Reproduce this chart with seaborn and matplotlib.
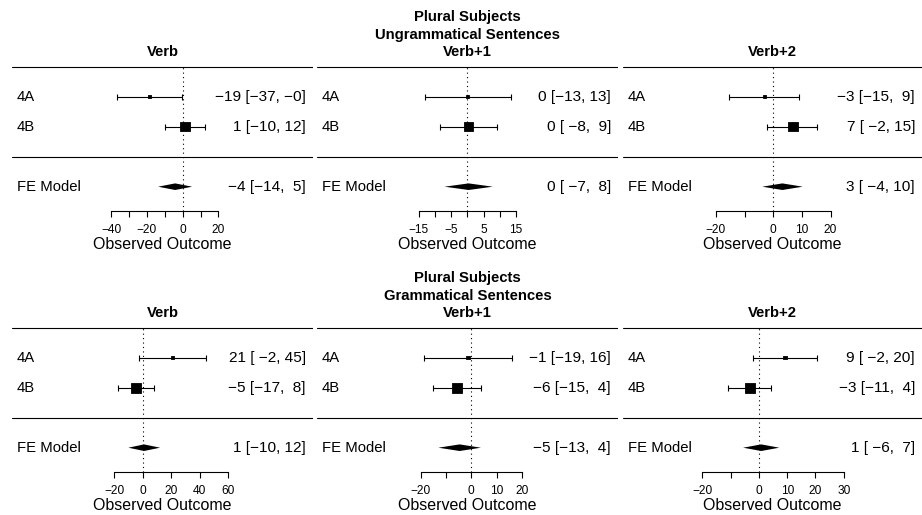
import matplotlib
matplotlib.use("Agg")
import matplotlib.pyplot as plt
import matplotlib.transforms as mtransforms
import seaborn as sns

# -------------------------
# Data
# -------------------------
study_labels = ["4A", "4B"]
panel_titles = ["Verb", "Verb+1", "Verb+2"]
block_headers = [["Plural Subjects", "Ungrammatical Sentences"],
                 ["Plural Subjects", "Grammatical Sentences"]]

# ungrammatical sentences: per panel, one value per study
ungram_est = [[-18.6, 1.2], [0.1, 0.4], [-3.1, 6.9]]
ungram_lo = [[-36.9, -10.1], [-13.1, -8.4], [-15.3, -2.1]]
ungram_hi = [[-0.2, 12.3], [13.3, 9.2], [9.1, 15.3]]
ungram_fe = [[-4.2, -13.7, 5.3], [0.4, -7.0, 7.8], [3.2, -3.8, 10.3]]  # est, lo, hi

# grammatical sentences
gram_est = [[21.2, -4.7], [-1.3, -5.7], [9.2, -3.2]]
gram_lo = [[-2.3, -17.3], [-18.7, -15.2], [-2.0, -10.8]]
gram_hi = [[44.7, 7.9], [16.1, 3.8], [20.4, 4.4]]
gram_fe = [[0.9, -10.1, 12.2], [-4.6, -13.0, 3.8], [0.8, -5.6, 7.2]]

ungram_ticks = [[-40, -30, -20, -10, 0, 10, 20], [-15, -10, -5, 0, 5, 10, 15], [-20, -10, 0, 10, 20]]
ungram_labeled = [[-40, -20, 0, 20], [-15, -5, 5, 15], [-20, 0, 10, 20]]
gram_ticks = [[-20, 0, 20, 40, 60], [-20, -10, 0, 10, 20], [-20, -10, 0, 10, 20, 30]]
gram_labeled = [[-20, 0, 20, 40, 60], [-20, 0, 10, 20], [-20, 0, 10, 20, 30]]

# -------------------------
# Layout (pixels of a 922x515 canvas)
# -------------------------
W, H = 922, 515
col_left = [12, 317, 623]
col_right = [313, 618, 922]
xlims = [[(-95.45, 72.9), (-46.2, 46.3), (-52.4, 51.9)],
         [(-92.0, 119.8), (-60.9, 57.9), (-48.1, 57.7)]]
block_offset = [0, 261]
ROW0 = 156.7      # pixel y of row 0 (separator line) in top block
STEP = 30.0       # pixels per row
YBOT, YTOP = -1.82, 3.5
FS = 10.7
FS_ANN = 11.1
LW = 0.8

sns.set_theme(style="white")
plt.rcParams['font.family'] = ['Liberation Sans', 'DejaVu Sans']
plt.rcParams['text.color'] = 'black'
plt.rcParams['axes.labelcolor'] = 'black'


def fmt(v):
    return f"{v:.0f}".replace("-", "\u2212")


def annot(e, l, h, wl, wh):
    return f"{fmt(e)} [{fmt(l).rjust(wl)}, {fmt(h).rjust(wh)}]"


fig = plt.figure(figsize=(W / 100, H / 100), dpi=100)

blocks = [
    (ungram_est, ungram_lo, ungram_hi, ungram_fe, ungram_ticks, ungram_labeled),
    (gram_est, gram_lo, gram_hi, gram_fe, gram_ticks, gram_labeled),
]

for b, (est, lo, hi, fe, ticks, labeled) in enumerate(blocks):
    off = block_offset[b]
    top_px = ROW0 + off - STEP * YTOP
    bot_px = ROW0 + off - STEP * YBOT
    for c in range(3):
        x0, x1 = col_left[c], col_right[c]
        ax = fig.add_axes([x0 / W, 1 - bot_px / H, (x1 - x0) / W, (bot_px - top_px) / H])
        ax.set_xlim(*xlims[b][c])
        ax.set_ylim(YBOT, YTOP)
        trans = mtransforms.blended_transform_factory(ax.transAxes, ax.transData)

        k = len(study_labels)
        rows = list(range(k, 0, -1))
        e, l, h = est[c], lo[c], hi[c]
        fe_e, fe_l, fe_h = fe[c]

        # square sizes as in metafor: weights 1/sqrt(vi), rescaled to 0.5..1.5
        wi = [1.0 / (hh - ll) for ll, hh in zip(l, h)]
        tot = sum(wi)
        p = [w / tot for w in wi]
        pmin, pmax = min(p), max(p)
        psize = [(v - pmin) / (pmax - pmin) + 0.5 for v in p]
        areas = [(ps * 6.4 * 0.72) ** 2 for ps in psize]

        # lines
        ax.axhline(k + 1, color="black", lw=LW)
        ax.axhline(0, color="black", lw=LW)
        ax.vlines(0, YBOT, k + 1, color="black", lw=LW, linestyles=(0, (1, 3)))

        # CIs with caps
        ax.hlines(rows, l, h, color="black", lw=LW)
        cap = 0.095
        ax.vlines(l, [r - cap for r in rows], [r + cap for r in rows], color="black", lw=LW)
        ax.vlines(h, [r - cap for r in rows], [r + cap for r in rows], color="black", lw=LW)
        sns.scatterplot(x=e, y=rows, s=areas, marker="s", color="black",
                        edgecolor="black", linewidth=0.6, legend=False, ax=ax, zorder=3)

        # FE diamond
        dh = 0.11
        ax.fill([fe_l, fe_e, fe_h, fe_e], [-1, -1 + dh, -1, -1 - dh], color="black", lw=0)

        # labels and annotations
        all_lo = [fmt(v) for v in l + [fe_l]]
        all_hi = [fmt(v) for v in h + [fe_h]]
        wl = max(len(s) for s in all_lo)
        wh = max(len(s) for s in all_hi)
        lx = 5 / (x1 - x0)
        rx = 1 - 7 / (x1 - x0)
        for r, name, ee, ll, hh in zip(rows, study_labels, e, l, h):
            ax.text(lx, r, name, transform=trans, ha="left", va="center", fontsize=FS)
            ax.text(rx, r, annot(ee, ll, hh, wl, wh), transform=trans,
                    ha="right", va="center", fontsize=FS_ANN)
        ax.text(lx, -1, "FE Model", transform=trans, ha="left", va="center", fontsize=FS)
        ax.text(rx, -1, annot(fe_e, fe_l, fe_h, wl, wh), transform=trans,
                ha="right", va="center", fontsize=FS_ANN)

        # axis
        for side in ["left", "right", "top"]:
            ax.spines[side].set_visible(False)
        ax.spines["bottom"].set_color("black")
        ax.spines["bottom"].set_linewidth(LW)
        ax.spines["bottom"].set_bounds(ticks[c][0], ticks[c][-1])
        ax.set_xticks(ticks[c])
        ax.set_xticklabels([fmt(t) if t in labeled[c] else "" for t in ticks[c]])
        ax.set_yticks([])
        ax.tick_params(axis="x", bottom=True, direction="out", length=4.1, width=LW,
                       pad=5, labelsize=8.6, colors="black")
        ax.set_xlabel("Observed Outcome", fontsize=11.5, labelpad=1, color="black")
        ax.set_ylabel("")
        ax.patch.set_alpha(0)

        # panel title
        cx = (x0 + x1) / 2 / W
        fig.text(cx, 1 - (51.7 + off) / H, panel_titles[c], ha="center", va="center",
                 fontsize=FS, fontweight="bold")
        if c == 1:
            for i, line in enumerate(block_headers[b]):
                fig.text(cx, 1 - (17 + 17.5 * i + off) / H, line, ha="center",
                         va="center", fontsize=FS, fontweight="bold")

fig.savefig("out.png", dpi=100)
